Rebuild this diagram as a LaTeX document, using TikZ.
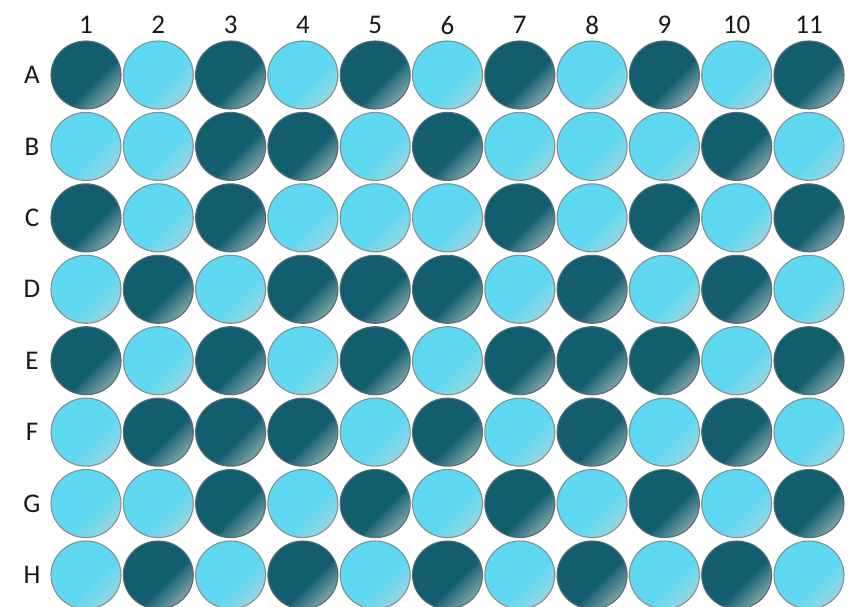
\documentclass[tikz,border=0pt]{standalone}
\usepackage{fontspec}
\setmainfont{Carlito}
\usetikzlibrary{shapes.geometric}
\definecolor{darkw}{HTML}{135E6E}
\definecolor{darkwa}{HTML}{236A7A}
\definecolor{darkwe}{HTML}{7FA3A9}
\definecolor{lightw}{HTML}{5FD9F1}
\definecolor{lightwa}{HTML}{68D8EE}
\definecolor{lightwe}{HTML}{95D6E2}
\definecolor{rimdark}{HTML}{5A6A6E}
\definecolor{rimlight}{HTML}{868E92}
\pgfdeclarehorizontalshading{darkwell}{100bp}{color(0bp)=(darkw); color(58bp)=(darkw); color(60bp)=(darkwa); color(75bp)=(darkwe); color(100bp)=(darkwe)}
\pgfdeclarehorizontalshading{lightwell}{100bp}{color(0bp)=(lightw); color(58bp)=(lightw); color(60bp)=(lightwa); color(75bp)=(lightwe); color(100bp)=(lightwe)}
\tikzset{
  well/.style={shape=ellipse, inner sep=0pt, minimum width=70pt, minimum height=68pt, line width=1.1pt},
  welldark/.style={well, shading=darkwell, shading angle=-45, draw=rimdark},
  welllight/.style={well, shading=lightwell, shading angle=-45, draw=rimlight},
  lab/.style={font=\fontsize{27}{30}\selectfont, text=black!90, inner sep=0pt}
}
\begin{document}
\begin{tikzpicture}[x=1pt,y=-1pt]
\useasboundingbox (0,0) rectangle (854,607);
\foreach \c in {1,...,11}{
  \node[lab] (col\c) at ({86+72.3*(\c-1)},25) {\c};
}
\foreach \r/\L/\pat in {
  1/A/{1,0,1,0,1,0,1,0,1,0,1},
  2/B/{0,0,1,1,0,1,0,0,0,1,0},
  3/C/{1,0,1,0,0,0,1,0,1,0,1},
  4/D/{0,1,0,1,1,1,0,1,0,1,0},
  5/E/{1,0,1,0,1,0,1,1,1,0,1},
  6/F/{0,1,1,1,0,1,0,1,0,1,0},
  7/G/{0,0,1,0,1,0,1,0,1,0,1},
  8/H/{0,1,0,1,0,1,0,1,0,1,0}}{
  \node[lab] (row\L) at (32,{75+71.43*(\r-1)}) {\L};
  \foreach \v [count=\c] in \pat {
    \ifnum\v=1
      \node[welldark] (w\L\c) at ({86+72.3*(\c-1)},{75+71.43*(\r-1)}) {};
    \else
      \node[welllight] (w\L\c) at ({86+72.3*(\c-1)},{75+71.43*(\r-1)}) {};
    \fi
  }
}
\end{tikzpicture}
\end{document}
